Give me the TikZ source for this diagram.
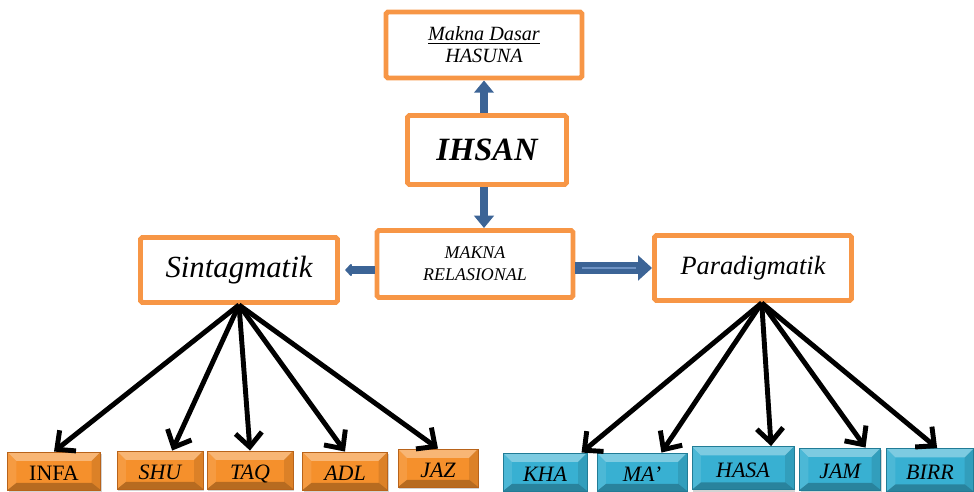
\documentclass[tikz,border=0pt]{standalone}
\usepackage{fontspec}
\setmainfont{Liberation Serif}
\usepackage{tikz}
\usetikzlibrary{arrows.meta,shadows}
\definecolor{bingkai}{HTML}{F79646}
\definecolor{panah}{HTML}{3C6496}
\definecolor{panahterang}{HTML}{6F93C4}
\definecolor{jingga}{HTML}{F5902C}
\definecolor{jinggatepi}{HTML}{B8631A}
\definecolor{biru}{HTML}{38B0D2}
\definecolor{birutepi}{HTML}{217C96}

\begin{document}
\begin{tikzpicture}[x=0.02cm,y=-0.02cm,
    kotak/.style={draw=bingkai,line width=2.8pt,fill=white,rounded corners=1pt,
      inner sep=0pt,align=center,font=\itshape},
    ubin/.style={line width=0.5pt,minimum height=0.76cm,inner sep=0pt,
      text height=11pt,text depth=0pt,
      font=\fontsize{12.5}{14}\selectfont\itshape,
      drop shadow={shadow xshift=0.6pt,shadow yshift=-1.2pt,opacity=0.35},
      path picture={
        \fill[white,opacity=0.35] (path picture bounding box.north west)
          -- (path picture bounding box.north east)
          -- ([xshift=-5pt,yshift=-5pt]path picture bounding box.north east)
          -- ([xshift=5pt,yshift=-5pt]path picture bounding box.north west) -- cycle;
        \fill[black,opacity=0.25] (path picture bounding box.south west)
          -- (path picture bounding box.south east)
          -- ([xshift=-5pt,yshift=4pt]path picture bounding box.south east)
          -- ([xshift=5pt,yshift=4pt]path picture bounding box.south west) -- cycle;
        \fill[black,opacity=0.1] (path picture bounding box.north east)
          -- (path picture bounding box.south east)
          -- ([xshift=-5pt,yshift=4pt]path picture bounding box.south east)
          -- ([xshift=-5pt,yshift=-5pt]path picture bounding box.north east) -- cycle;
        \fill[white,opacity=0.1] (path picture bounding box.north west)
          -- (path picture bounding box.south west)
          -- ([xshift=5pt,yshift=4pt]path picture bounding box.south west)
          -- ([xshift=5pt,yshift=-5pt]path picture bounding box.north west) -- cycle;
      }},
    jg/.style={ubin,draw=jinggatepi,fill=jingga},
    br/.style={ubin,draw=birutepi,fill=biru},
    tanda/.style={line width=2.8pt,-{Straight Barb[length=8pt,width=15pt]}}]
    \useasboundingbox (0,0) rectangle (974,492);

    \path
    (484,45) node[kotak,minimum width=3.92cm,minimum height=1.32cm,
      font=\fontsize{11.5}{12.5}\selectfont\itshape] (dasar)
      {\underline{Makna Dasar}\\HASUNA}
    (487,150) node[kotak,minimum width=3.18cm,minimum height=1.38cm,
      font=\fontsize{18.5}{20}\selectfont\bfseries\itshape] (ihsan) {IHSAN}
    (475,264) node[kotak,minimum width=3.92cm,minimum height=1.34cm,
      font=\fontsize{10.2}{12.5}\selectfont\itshape] (relasi)
      {MAKNA\\RELASIONAL}
    (239,270) node[kotak,minimum width=3.94cm,minimum height=1.30cm,
      font=\fontsize{17.5}{20}\selectfont\itshape] (sintag) {Sintagmatik}
    (753,268) node[kotak,minimum width=3.94cm,minimum height=1.30cm,
      font=\fontsize{15}{18}\selectfont\itshape] (paradig) {Paradigmatik}
    ;

    \path
    (54,471) node[jg,minimum width=1.86cm,font=\fontsize{12.5}{14}\selectfont] (infa) {INFA}
    (160,470) node[jg,minimum width=1.72cm] (shu) {SHU}
    (250,470) node[jg,minimum width=1.72cm] (taq) {TAQ}
    (345,471) node[jg,minimum width=1.70cm] (adl) {ADL}
    (438,468) node[jg,minimum width=1.60cm] (jaz) {JAZ}
    ;

    \path
    (545,472) node[br,minimum width=1.68cm] (kha) {KHA}
    (642,472) node[br,minimum width=1.80cm] (ma) {MA’}
    (743,468) node[br,minimum width=2.04cm,minimum height=0.86cm] (hasa) {HASA}
    (840,469) node[br,minimum width=1.62cm,minimum height=0.84cm] (jam) {JAM}
    (930,470) node[br,minimum width=1.74cm,minimum height=0.86cm] (birr) {BIRR}
    ;

    \draw[panah,line width=4.5pt,-{Triangle[length=7pt,width=11pt]}]
      (ihsan.north -| dasar) -- (dasar.south);
    \draw[panah,line width=4.5pt,-{Triangle[length=7pt,width=11pt]}]
      (ihsan.south -| dasar) -- (relasi.north -| dasar);
    \draw[panah,line width=4.5pt,-{Triangle[length=4pt,width=8pt,round]},shorten >=3pt]
      (relasi.west |- sintag) -- (sintag.east);
    \draw[panah,line width=7pt,-{Triangle[length=8pt,width=14pt]}]
      (relasi.east |- paradig) -- (paradig.west);
    \draw[panahterang,line width=0.6pt,shorten <=4pt,shorten >=9pt]
      (relasi.east |- paradig) -- (paradig.west);

    \foreach \t in {infa.north,shu.58,taq.north,adl.north,jaz.north}
      \draw[tanda] (sintag.south) -- (\t);
    \foreach \t in {kha.28,ma.45,hasa.38,jam.40,birr.72}
      \draw[tanda] (paradig.-76) -- (\t);
  \end{tikzpicture}
\end{document}
